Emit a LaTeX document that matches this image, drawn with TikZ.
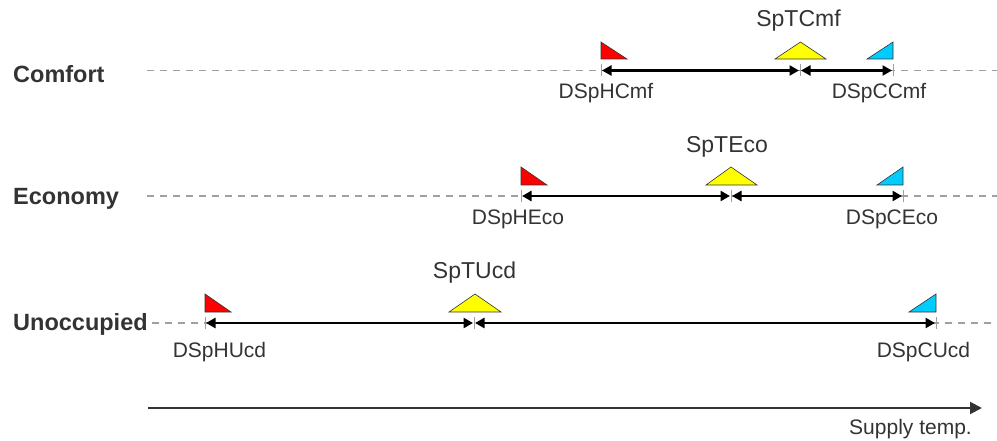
\documentclass[tikz,border=0pt]{standalone}
\usepackage{fontspec}
\setmainfont{Liberation Sans}
\usetikzlibrary{arrows.meta}
\definecolor{lbl}{HTML}{333333}
\definecolor{guide}{HTML}{A0A0A0}
\definecolor{heat}{HTML}{FF0000}
\definecolor{setpt}{HTML}{FFFF00}
\definecolor{cool}{HTML}{00CCFF}

\begin{document}
\begin{tikzpicture}[x=1pt,y=-1pt,
  guideline/.style={guide, line width=1.4pt, dash pattern=on 7pt off 6pt},
  tickmark/.style={guide, line width=0.8pt},
  span/.style={line width=2.9pt, {Triangle[length=9.5pt,width=10pt]}-{Triangle[length=9.5pt,width=10pt]}, shorten <=1pt, shorten >=1pt},
  rowlabel/.style={font=\fontsize{23.5}{26}\selectfont\bfseries, text=lbl, anchor=base west, inner sep=0},
  limlabel/.style={font=\fontsize{21}{24}\selectfont, text=lbl, anchor=base, inner sep=0},
  sptlabel/.style={font=\fontsize{23}{26}\selectfont, text=lbl, anchor=base, inner sep=0},
  marker/.style={draw=black!80, line width=0.6pt, line join=miter},
  axisline/.style={lbl, line width=2pt, -{Triangle[length=12pt,width=12pt]}},
]
\useasboundingbox (0,0) rectangle (997,441);

% ---------- Comfort ----------
\coordinate (cmfS) at (147,70.5);
\coordinate (cmfE) at (997,70.5);
\coordinate (cmfH) at (601,70.5);
\coordinate (cmfT) at (800,70.5);
\coordinate (cmfC) at (893,70.5);
\draw[guideline] (cmfS) -- (cmfE);
\foreach \p in {cmfH,cmfT,cmfC}
  \draw[tickmark] ([yshift=6pt]\p) -- ([yshift=-6pt]\p);
\draw[span] (cmfH) -- (cmfT);
\draw[span] (cmfT) -- (cmfC);
\draw[marker, fill=heat] (601,42) -- (601,59) -- (627,59) -- cycle;
\draw[marker, fill=setpt] (775,59) -- (826,59) -- (800.5,42) -- cycle;
\draw[marker, fill=cool] (893,42) -- (893,59) -- (867,59) -- cycle;
\node[rowlabel] (cmfLbl) at (13,83) {Comfort};
\node[sptlabel] (cmfSp) at (798.5,27) {SpTCmf};
\node[limlabel] (cmfHL) at (606,99) {DSpHCmf};
\node[limlabel] (cmfCL) at (879,99) {DSpCCmf};

% ---------- Economy ----------
\coordinate (ecoS) at (147,196);
\coordinate (ecoE) at (997,196);
\coordinate (ecoH) at (521,196);
\coordinate (ecoT) at (731,196);
\coordinate (ecoC) at (903,196);
\draw[guideline] (ecoS) -- (ecoE);
\foreach \p in {ecoH,ecoT,ecoC}
  \draw[tickmark] ([yshift=6pt]\p) -- ([yshift=-6pt]\p);
\draw[span] (ecoH) -- (ecoT);
\draw[span] (ecoT) -- (ecoC);
\draw[marker, fill=heat] (521,167) -- (521,185) -- (547,185) -- cycle;
\draw[marker, fill=setpt] (706,185) -- (757,185) -- (731,167) -- cycle;
\draw[marker, fill=cool] (903,167) -- (903,185) -- (877,185) -- cycle;
\node[rowlabel] (ecoLbl) at (13,205) {Economy};
\node[sptlabel] (ecoSp) at (727,153) {SpTEco};
\node[limlabel] (ecoHL) at (518,225) {DSpHEco};
\node[limlabel] (ecoCL) at (892,225) {DSpCEco};

% ---------- Unoccupied ----------
\coordinate (ucdS) at (152,323);
\coordinate (ucdE) at (997,323);
\coordinate (ucdH) at (205,323);
\coordinate (ucdT) at (474,323);
\coordinate (ucdC) at (936,323);
\draw[guideline] (ucdS) -- (ucdE);
\foreach \p in {ucdH,ucdT,ucdC}
  \draw[tickmark] ([yshift=6pt]\p) -- ([yshift=-6pt]\p);
\draw[span] (ucdH) -- (ucdT);
\draw[span] (ucdT) -- (ucdC);
\draw[marker, fill=heat] (205,294) -- (205,312) -- (231,312) -- cycle;
\draw[marker, fill=setpt] (449,312) -- (501,312) -- (475,294) -- cycle;
\draw[marker, fill=cool] (936,294) -- (936,312) -- (909,312) -- cycle;
\node[rowlabel] (ucdLbl) at (13,330) {Unoccupied};
\node[sptlabel] (ucdSp) at (474.5,278) {SpTUcd};
\node[limlabel] (ucdHL) at (219.5,357) {DSpHUcd};
\node[limlabel] (ucdCL) at (923.5,357) {DSpCUcd};

% ---------- temperature axis ----------
\coordinate (axS) at (148,408);
\coordinate (axE) at (982,408);
\draw[axisline] (axS) -- (axE);
\node[limlabel, anchor=base east] (axLbl) at (972,434) {Supply temp.};
\end{tikzpicture}
\end{document}
